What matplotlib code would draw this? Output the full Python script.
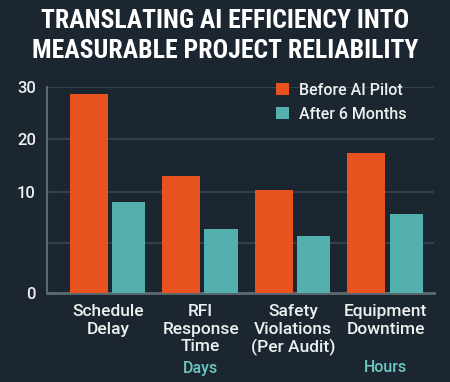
import numpy as np
import matplotlib
matplotlib.use("Agg")
import matplotlib.pyplot as plt
import matplotlib.transforms as mtransforms

# data
categories = ["Schedule\nDelay", "RFI\nResponse\nTime", "Safety\nViolations\n(Per Audit)", "Equipment\nDowntime"]
units = ["", "Days", "", "Hours"]
before_ai = [28.7, 13.0, 10.3, 17.3]
after_6m = [9.0, 6.3, 5.6, 7.8]
y_ticks = [0, 5, 10, 20, 30]
y_ticklabels = ["0", "", "10", "20", "30"]

BG = "#1c2630"
ORANGE = "#e8521f"
TEAL = "#53b0ae"
GRID = "#36474f"
TEXT = "#eef0f0"

# the reference axis is not linear: 0-10 takes half the height
xp = [-100, 0, 10, 20, 30, 100]
fp = [-4.9, 0, 0.49, 0.748, 1.0, 1.0 + 70 * 0.0258]


def fwd(v):
    return np.interp(v, xp, fp)


def inv(v):
    return np.interp(v, fp, xp)


plt.rcParams["font.family"] = ["Roboto", "DejaVu Sans"]
plt.rcParams["font.weight"] = "medium"

fig = plt.figure(figsize=(4.5, 3.82), dpi=100, facecolor=BG)
ax = fig.add_axes([47 / 450, 89 / 382, 387 / 450, 206 / 382], facecolor=BG)

x = np.arange(len(categories))
ax.bar(x - 0.21, before_ai, width=0.41, color=ORANGE, label="Before AI Pilot", zorder=3)
ax.bar(x + 0.22, after_6m, width=0.36, color=TEAL, label="After 6 Months", zorder=3)

ax.set_yscale("function", functions=(fwd, inv))
ax.set_ylim(0, 30)
ax.set_xlim(-0.66, 3.52)
ax.set_yticks(y_ticks)
ax.set_yticklabels(y_ticklabels)
ax.yaxis.grid(True, color=GRID, linewidth=1.2, zorder=0)
ax.set_xticks(x)
ax.set_xticklabels(categories, fontsize=12.5, color=TEXT, linespacing=1.2)
ax.tick_params(axis="x", length=0, pad=8)
ax.tick_params(axis="y", length=0, pad=8, labelsize=12, labelcolor=TEXT)

for s in ["top", "right"]:
    ax.spines[s].set_visible(False)
ax.spines["left"].set_color("#5b6b72")
ax.spines["bottom"].set_color("#5b6b72")
ax.spines["left"].set_linewidth(1.5)
ax.spines["bottom"].set_linewidth(2)

trans = mtransforms.blended_transform_factory(ax.transData, fig.transFigure)
for xi, u in zip(x, units):
    if u:
        ax.text(xi, 14 / 382, u, transform=trans, ha="center", va="center",
                fontsize=11.5, color="#6cc8c3")

leg = ax.legend(loc="upper right", bbox_to_anchor=(0.966, 1.09), frameon=False,
                fontsize=11.5, labelcolor=TEXT, handlelength=0.8, handleheight=0.8,
                handletextpad=0.6, labelspacing=0.55)

title_font = ["Liberation Sans Narrow", "Roboto Condensed", "DejaVu Sans"]
fig.text(0.5, 1 - 21 / 382, "TRANSLATING AI EFFICIENCY INTO", ha="center", va="center",
         fontsize=18.5, fontweight="bold", color="white", family=title_font)
fig.text(0.5, 1 - 51 / 382, "MEASURABLE PROJECT RELIABILITY", ha="center", va="center",
         fontsize=18.5, fontweight="bold", color="white", family=title_font)

fig.savefig("out.png", dpi=100, facecolor=BG)
